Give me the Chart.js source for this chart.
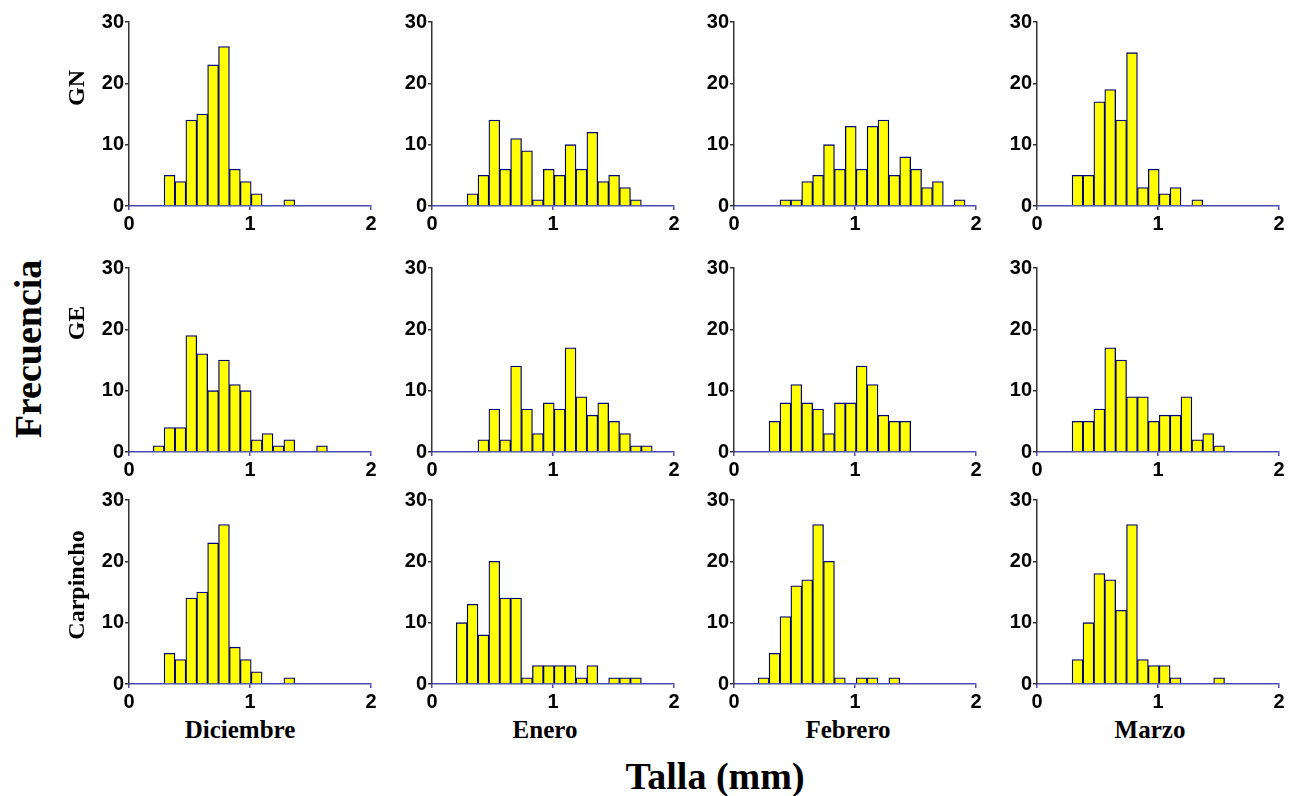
<!DOCTYPE html>
<html>
<head>
<meta charset="utf-8">
<script src="https://cdn.jsdelivr.net/npm/chart.js@4.4.0/dist/chart.umd.min.js"></script>
<style>
  body { margin: 0; background: #fff; }
  #fig { position: relative; width: 1297px; height: 796px; overflow: hidden; }
  #fig canvas { position: absolute; }
  .lbl { position: absolute; font-family: 'Liberation Serif', serif; font-weight: bold; color: #000; white-space: nowrap; }
  .rot { transform: translate(-50%, -50%) rotate(-90deg); }
  .ctr { transform: translate(-50%, -50%); }
</style>
</head>
<body>
<div id="fig"></div>
<script>
// ── Data: size-class histograms (bin width 0.09 mm) ──
const binCenters = [0.245, 0.335, 0.425, 0.515, 0.605, 0.695, 0.785, 0.875, 0.965, 1.055,
                    1.145, 1.235, 1.325, 1.415, 1.505, 1.595, 1.685, 1.775, 1.865];

const months = ['Diciembre', 'Enero', 'Febrero', 'Marzo'];
const sites  = ['GN', 'GE', 'Carpincho'];

const gnDic = [0, 5, 4, 14, 15, 23, 26, 6, 4, 2, 0, 0, 1, 0, 0, 0, 0, 0, 0];
const gnEne = [0, 2, 5, 14, 6, 11, 9, 1, 6, 5, 10, 6, 12, 4, 5, 3, 1, 0, 0];
const gnFeb = [0, 0, 1, 1, 4, 5, 10, 6, 13, 6, 13, 14, 5, 8, 6, 3, 4, 0, 1];
const gnMar = [0, 5, 5, 17, 19, 14, 25, 3, 6, 2, 3, 0, 1, 0, 0, 0, 0, 0, 0];

const geDic = [1, 4, 4, 19, 16, 10, 15, 11, 10, 2, 3, 1, 2, 0, 0, 1, 0, 0, 0];
const geEne = [0, 0, 2, 7, 2, 14, 7, 3, 8, 7, 17, 9, 6, 8, 5, 3, 1, 1, 0];
const geFeb = [0, 5, 8, 11, 8, 7, 3, 8, 8, 14, 11, 6, 5, 5, 0, 0, 0, 0, 0];
const geMar = [0, 5, 5, 7, 17, 15, 9, 9, 5, 6, 6, 9, 2, 3, 1, 0, 0, 0, 0];

const caDic = [0, 5, 4, 14, 15, 23, 26, 6, 4, 2, 0, 0, 1, 0, 0, 0, 0, 0, 0];
const caEne = [10, 13, 8, 20, 14, 14, 1, 3, 3, 3, 3, 1, 3, 0, 1, 1, 1, 0, 0];
const caFeb = [1, 5, 11, 16, 17, 26, 20, 1, 0, 1, 1, 0, 1, 0, 0, 0, 0, 0, 0];
const caMar = [0, 4, 10, 18, 17, 12, 26, 4, 3, 3, 1, 0, 0, 0, 1, 0, 0, 0, 0];

const grid = [
  [gnDic, gnEne, gnFeb, gnMar],
  [geDic, geEne, geFeb, geMar],
  [caDic, caEne, caFeb, caMar]
];

const xTicks = [0, 1, 2];
const yTicks = [0, 10, 20, 30];

// ── Layout of the panel grid (plot-area corners) ──
const colLeft = [129, 432, 734, 1037];
const rowTop  = [21, 267, 499];
const AREA_W = 242, AREA_H = 185;
const Y_AXIS_W = 44, X_AXIS_H = 30, PAD_T = 12, PAD_R = 12;

const fig = document.getElementById('fig');
const tickFont = { family: "'Liberation Sans', Arial, sans-serif", size: 20, weight: 'bold' };

function makePanel(counts, left, top) {
  const cv = document.createElement('canvas');
  cv.width  = Y_AXIS_W + AREA_W + PAD_R;
  cv.height = PAD_T + AREA_H + X_AXIS_H;
  cv.style.left = (left - Y_AXIS_W) + 'px';
  cv.style.top  = (top - PAD_T) + 'px';
  fig.appendChild(cv);

  new Chart(cv, {
    type: 'bar',
    data: {
      datasets: [{
        data: binCenters.map((x, i) => ({ x: x, y: counts[i] })),
        backgroundColor: '#ffff00',
        borderColor: '#00007a',
        borderWidth: 1.3,
        barPercentage: 1,
        categoryPercentage: 1
      }]
    },
    options: {
      responsive: false,
      animation: false,
      devicePixelRatio: 1,
      layout: { padding: { top: PAD_T, right: PAD_R, left: 0, bottom: 0 } },
      plugins: { legend: { display: false }, tooltip: { enabled: false } },
      scales: {
        x: {
          type: 'linear', min: 0, max: 2, offset: false,
          afterBuildTicks: s => { s.ticks = xTicks.map(v => ({ value: v })); },
          afterFit: s => { s.height = X_AXIS_H; },
          ticks: { font: tickFont, color: '#000', padding: 2, maxRotation: 0 },
          grid: { offset: false, drawOnChartArea: false, tickLength: 4, color: '#4a4ab4', lineWidth: 1.5 },
          border: { color: '#4a4ab4', width: 1.5 }
        },
        y: {
          min: 0, max: 30,
          afterBuildTicks: s => { s.ticks = yTicks.map(v => ({ value: v })); },
          afterFit: s => { s.width = Y_AXIS_W; },
          ticks: { font: tickFont, color: '#000', padding: 1 },
          grid: { drawOnChartArea: false, tickLength: 4, color: '#333', lineWidth: 1.5 },
          border: { color: '#333', width: 1.5 }
        }
      }
    }
  });
}

grid.forEach((row, r) => row.forEach((counts, c) => makePanel(counts, colLeft[c], rowTop[r])));

// ── Figure labels ──
function addLabel(text, x, y, size, rotated) {
  const d = document.createElement('div');
  d.className = 'lbl ' + (rotated ? 'rot' : 'ctr');
  d.textContent = text;
  d.style.left = x + 'px';
  d.style.top = y + 'px';
  d.style.fontSize = size + 'px';
  fig.appendChild(d);
}

const rowLabelY = [88, 323, 585];
sites.forEach((s, i) => addLabel(s, 76, rowLabelY[i], 24, true));

const monthX = [240, 545, 848, 1150];
months.forEach((m, i) => addLabel(m, monthX[i], 730, 25, false));

addLabel('Frecuencia', 28, 349, 38, true);
addLabel('Talla (mm)', 715, 776, 38, false);
</script>
</body>
</html>
